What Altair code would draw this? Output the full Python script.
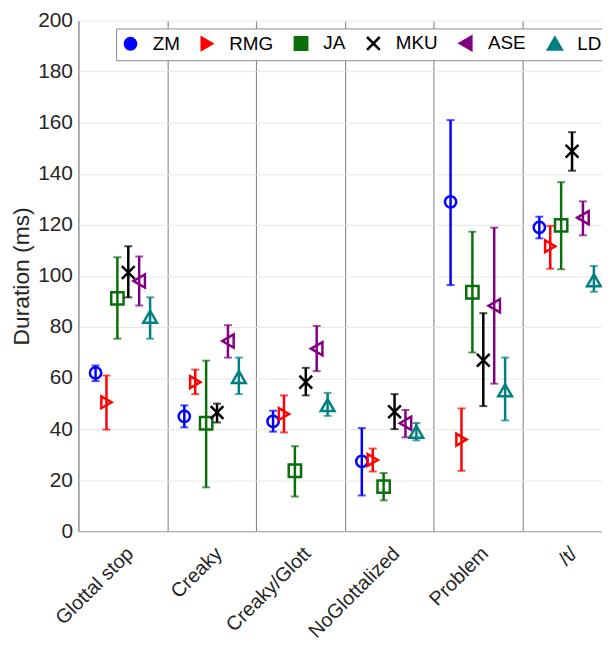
import altair as alt
import pandas as pd

categories = ["Glottal stop", "Creaky", "Creaky/Glott", "NoGlottalized", "Problem", "/t/"]
speakers = ["ZM", "RMG", "JA", "MKU", "ASE", "LD"]
colors = ["#0000ff", "#ff0000", "#0a6e0a", "#000000", "#800080", "#008080"]
shapes = ["circle", "triangle-right", "square", "M-1,-1L1,1M-1,1L1,-1", "triangle-left", "triangle-up"]
sizes = [130, 190, 100, 35, 190, 230]

# mean, lower end, upper end of each error bar (ms), per speaker, per category
zm_mean = [62, 45, 43, 27.4, 129, 119]
zm_low = [58.8, 40.7, 39, 14, 96.4, 114.7]
zm_high = [64.9, 49.3, 47.2, 40.4, 161, 123.2]

rmg_mean = [50.5, 58.4, 45.9, 27.9, 35.9, 111.6]
rmg_low = [39.8, 53.7, 38.7, 23.4, 23.7, 102.8]
rmg_high = [61, 63.3, 53.2, 32.4, 48.1, 119.6]

ja_mean = [91.2, 42.3, 23.7, 17.5, 93.6, 119.8]
ja_low = [75.4, 17.2, 13.6, 12.1, 70, 102.6]
ja_high = [107.3, 66.8, 33.3, 22.8, 117.3, 136.7]

mku_mean = [101.3, 46.5, 58.4, 46.8, 67, 148.8]
mku_low = [91.6, 42.6, 53.2, 40, 49, 141.2]
mku_high = [111.6, 50, 64, 53.7, 85.4, 156.3]

ase_mean = [98, 74.5, 71.5, 42.3, 88.3, 122.8]
ase_low = [88.4, 68, 62.7, 36.8, 57.8, 115.9]
ase_high = [107.6, 80.7, 80.4, 47.5, 118.9, 129.2]

ld_mean = [84, 60.4, 49.4, 38.9, 55.2, 98.3]
ld_low = [75.4, 53.7, 45.2, 35.6, 43.4, 93.8]
ld_high = [91.6, 68, 54.2, 42.4, 68, 103.9]

means = [zm_mean, rmg_mean, ja_mean, mku_mean, ase_mean, ld_mean]
lows = [zm_low, rmg_low, ja_low, mku_low, ase_low, ld_low]
highs = [zm_high, rmg_high, ja_high, mku_high, ase_high, ld_high]

rows = []
for s, m, lo, hi in zip(speakers, means, lows, highs):
    for c, a, b, d in zip(categories, m, lo, hi):
        rows.append({"category": c, "speaker": s, "mean": a, "low": b, "high": d})
df = pd.DataFrame(rows)

FONT = "Liberation Sans"

x_enc = alt.X(
    "category:N",
    sort=categories,
    scale=alt.Scale(range=[0, 537], paddingInner=0, paddingOuter=0),
    axis=alt.Axis(
        title=None,
        labelAngle=315,
        labelAlign="right",
        labelBaseline="top",
        labelPadding=12,
        grid=True,
        gridColor="#7a7a7a",
        gridWidth=1,
        tickBand="extent",
        ticks=False,
        domainColor="#9a9a9a",
        labelFontSize=20,
    ),
)
xo_enc = alt.XOffset("speaker:N", sort=speakers,
                     scale=alt.Scale(type="point", padding=0, range=[17.3, 72.3]))
legend = alt.Legend(
    title=None,
    orient="none",
    legendX=38,
    legendY=8,
    direction="horizontal",
    columns=6,
    fillColor="white",
    strokeColor="#8c8c8c",
    padding=5,
    labelFontSize=19,
    labelFont=FONT,
    labelColor="#000000",
    symbolStrokeWidth=2.5,
    symbolSize=120,
    symbolFillColor="transparent",
    columnPadding=16,
    labelOffset=13,
)
color_scale = alt.Scale(domain=speakers, range=colors)
color_enc = alt.Color("speaker:N", sort=speakers, scale=color_scale, legend=legend)
shape_enc = alt.Shape("speaker:N", sort=speakers, scale=alt.Scale(domain=speakers, range=shapes), legend=legend)
size_enc = alt.Size("speaker:N", sort=speakers, scale=alt.Scale(domain=speakers, range=sizes), legend=None)
stroke_enc = alt.Stroke("speaker:N", sort=speakers, scale=color_scale, legend=None)
fill_enc = alt.Fill("speaker:N", sort=speakers, scale=color_scale, legend=None)

y_axis = alt.Axis(
    title="Duration (ms)",
    values=list(range(0, 201, 20)),
    grid=True,
    gridColor="#e6e6e6",
    ticks=False,
    domainColor="#9a9a9a",
    labelPadding=6,
    titlePadding=4,
    labelFontSize=21,
    titleFontSize=23,
)
y_scale = alt.Scale(domain=[0, 200], nice=False)

base = alt.Chart(df)

points = base.mark_point(filled=False, strokeWidth=2.5).encode(
    x=x_enc, xOffset=xo_enc, color=color_enc, shape=shape_enc, size=size_enc,
    y=alt.Y("mean:Q", scale=y_scale, axis=y_axis),
)
bars = base.mark_rule(strokeWidth=2.5).encode(
    x=x_enc, xOffset=xo_enc, stroke=stroke_enc,
    y=alt.Y("low:Q", scale=y_scale), y2="high:Q",
)
cap_lo = base.mark_tick(orient="horizontal", size=8, thickness=2).encode(
    x=x_enc, xOffset=xo_enc, fill=fill_enc,
    y=alt.Y("low:Q", scale=y_scale),
)
cap_hi = base.mark_tick(orient="horizontal", size=8, thickness=2).encode(
    x=x_enc, xOffset=xo_enc, fill=fill_enc,
    y=alt.Y("high:Q", scale=y_scale),
)

chart = (
    alt.layer(points, bars, cap_lo, cap_hi)
    .properties(
        width=528,
        height=515,
        autosize=alt.AutoSizeParams(type="none"),
        padding={"left": 71, "top": 10, "right": 0, "bottom": 106},
    )
    .configure(font=FONT)
    .configure_axis(labelFont=FONT, titleFont=FONT, labelColor="#262626", titleColor="#262626", titleFontWeight="normal")
    .configure_legend(symbolBaseFillColor="transparent", symbolFillColor="transparent")
    .configure_point(opacity=1)
    .configure_view(stroke=None)
)

chart.save("out.html", embed_options={"renderer": "svg", "actions": False})
